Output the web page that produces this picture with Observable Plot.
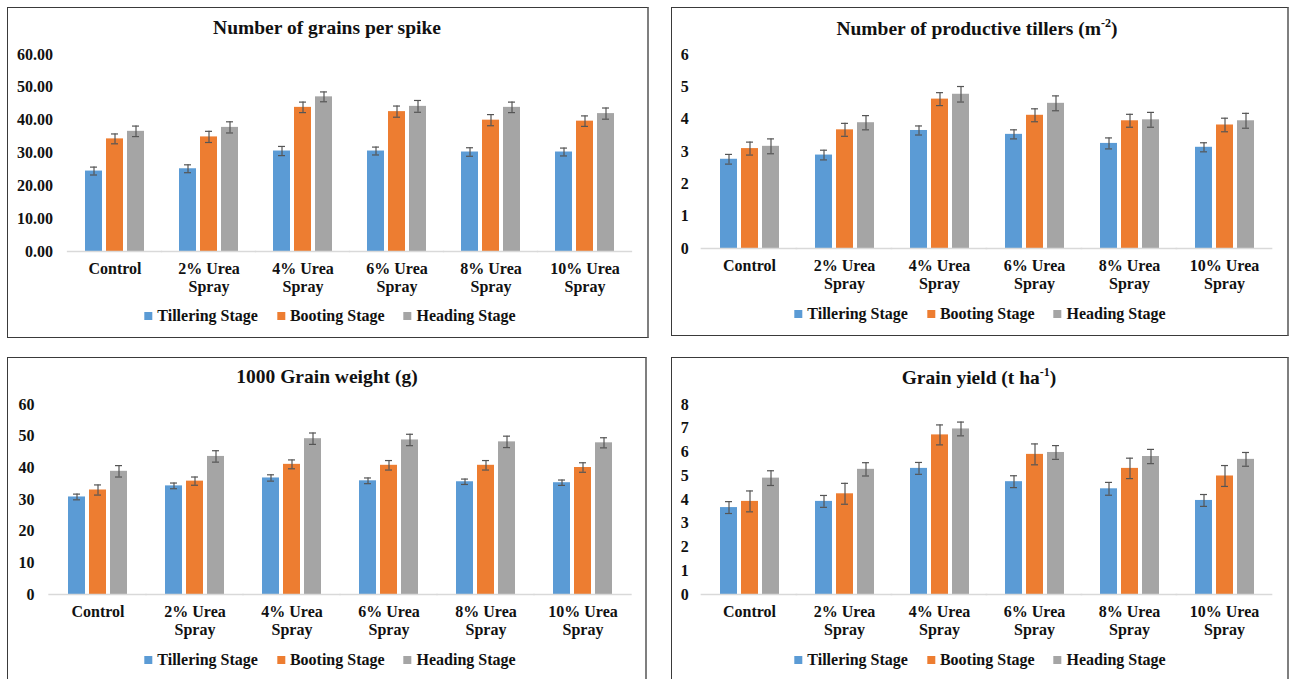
<!DOCTYPE html>
<html><head><meta charset="utf-8">
<script src="https://cdn.jsdelivr.net/npm/d3@7"></script>
<script src="https://cdn.jsdelivr.net/npm/@observablehq/plot@0.6"></script>
<style>
body{margin:0;background:#fff;font-family:"Liberation Serif","Times New Roman",serif;color:#111;}
#root{position:relative;width:1289px;height:679px;overflow:hidden;background:#fff;}
.panel{position:absolute;box-sizing:border-box;border:1px solid #3a3a3a;border-right:2px solid #7f7f7f;}
.title{position:absolute;font-weight:bold;font-size:19.5px;white-space:nowrap;transform:translate(-50%,-50%);}
.title sup{font-size:12px;}
.legend{position:absolute;display:flex;align-items:center;gap:19px;white-space:nowrap;transform:translate(-50%,-50%);font-weight:bold;font-size:16px;}
.legend .item{display:flex;align-items:center;gap:5px;}
.legend .sw{width:8px;height:8px;display:inline-block;}
.chart{position:absolute;}
</style></head><body><div id="root"></div>
<script>
// ---- categories & series ----
const categories = ["Control", "2% Urea\nSpray", "4% Urea\nSpray", "6% Urea\nSpray", "8% Urea\nSpray", "10% Urea\nSpray"];
const stages = ["Tillering Stage", "Booting Stage", "Heading Stage"];
const stageColors = ["#5B9BD5", "#ED7D31", "#A5A5A5"];

// Number of grains per spike
const spikeTillering = [24.5, 25.2, 30.6, 30.6, 30.3, 30.3];
const spikeBooting   = [34.3, 34.9, 43.9, 42.6, 40.0, 39.7];
const spikeHeading   = [36.6, 37.8, 47.1, 44.2, 43.9, 42.0];
const spikeErrT = [1.2, 1.2, 1.4, 1.2, 1.3, 1.2];
const spikeErrB = [1.5, 1.7, 1.6, 1.7, 1.7, 1.6];
const spikeErrH = [1.6, 1.7, 1.5, 1.8, 1.6, 1.7];
const spikeTicks = [0, 10, 20, 30, 40, 50, 60];

// Number of productive tillers (m-2)
const tillersTillering = [2.76, 2.89, 3.65, 3.53, 3.25, 3.13];
const tillersBooting   = [3.09, 3.67, 4.62, 4.12, 3.95, 3.82];
const tillersHeading   = [3.16, 3.89, 4.77, 4.49, 3.98, 3.95];
const tillersErrT = [0.15, 0.15, 0.14, 0.14, 0.17, 0.14];
const tillersErrB = [0.20, 0.20, 0.20, 0.20, 0.20, 0.21];
const tillersErrH = [0.23, 0.22, 0.24, 0.23, 0.23, 0.23];
const tillersTicks = [0, 1, 2, 3, 4, 5, 6];

// 1000 Grain weight (g)
const weightTillering = [30.8, 34.3, 36.8, 35.9, 35.6, 35.3];
const weightBooting   = [33.0, 35.8, 41.1, 40.8, 40.8, 40.1];
const weightHeading   = [38.9, 43.6, 49.2, 48.8, 48.2, 47.9];
const weightErrT = [0.9, 0.9, 1.0, 0.9, 0.85, 0.85];
const weightErrB = [1.6, 1.3, 1.4, 1.5, 1.5, 1.5];
const weightErrH = [1.8, 1.8, 1.8, 1.8, 1.8, 1.6];
const weightTicks = [0, 10, 20, 30, 40, 50, 60];

// Grain yield (t ha-1)
const yieldTillering = [3.66, 3.92, 5.31, 4.75, 4.45, 3.96];
const yieldBooting   = [3.92, 4.24, 6.72, 5.90, 5.31, 4.99];
const yieldHeading   = [4.90, 5.27, 6.97, 5.98, 5.81, 5.69];
const yieldErrT = [0.25, 0.25, 0.25, 0.25, 0.27, 0.25];
const yieldErrB = [0.44, 0.44, 0.42, 0.44, 0.43, 0.44];
const yieldErrH = [0.31, 0.28, 0.29, 0.29, 0.30, 0.29];
const yieldTicks = [0, 1, 2, 3, 4, 5, 6, 7, 8];

function table(series, errs) {
  const rows = [];
  categories.forEach((c, i) => {
    stages.forEach((s, j) => rows.push({cat: c, stage: s, value: series[j][i], err: errs[j][i]}));
  });
  return rows;
}

const panels = [
  {title: "Number of grains per spike", box: [7, 7, 649, 338], plot: [67, 54, 632, 251], titleC: [327, 28], legendC: [330, 316],
   data: table([spikeTillering, spikeBooting, spikeHeading], [spikeErrT, spikeErrB, spikeErrH]), ticks: spikeTicks, fmt: d3.format(".2f"), pad: 15},
  {title: "Number of productive tillers (m<sup>-2</sup>)", box: [671, 7, 1289, 336], plot: [700, 54, 1272, 248], titleC: [977, 28], legendC: [980, 314],
   data: table([tillersTillering, tillersBooting, tillersHeading], [tillersErrT, tillersErrB, tillersErrH]), ticks: tillersTicks, fmt: d3.format("d"), pad: 13},
  {title: "1000 Grain weight (g)", box: [7, 357, 647, 690], plot: [47, 404, 632, 594], titleC: [327, 377], legendC: [330, 660],
   data: table([weightTillering, weightBooting, weightHeading], [weightErrT, weightErrB, weightErrH]), ticks: weightTicks, fmt: d3.format("d"), pad: 15},
  {title: "Grain yield (t ha<sup>-1</sup>)", box: [671, 357, 1289, 690], plot: [700, 404, 1272, 594], titleC: [979, 377], legendC: [980, 660],
   data: table([yieldTillering, yieldBooting, yieldHeading], [yieldErrT, yieldErrB, yieldErrH]), ticks: yieldTicks, fmt: d3.format("d"), pad: 13}
];

const root = document.getElementById("root");
const errColor = "#555555";
const fxPadInner = 0.33, fxPadOuter = 0.165;

for (const p of panels) {
  const [bl, bt, br, bb] = p.box;
  const box = document.createElement("div");
  box.className = "panel";
  Object.assign(box.style, {left: bl + "px", top: bt + "px", width: (br - bl) + "px", height: (bb - bt) + "px"});
  root.appendChild(box);

  const t = document.createElement("div");
  t.className = "title";
  t.innerHTML = p.title;
  Object.assign(t.style, {left: p.titleC[0] + "px", top: p.titleC[1] + "px"});
  root.appendChild(t);

  const [pl, pt, pr, pb] = p.plot;
  const svgLeft = bl + 1, svgTop = pt - 14;
  const mR = 6, mB = 50;
  const width = pr + mR - svgLeft, height = pb + mB - svgTop;
  const ymax = p.ticks[p.ticks.length - 1];
  // the outer facet padding: the y axis sits on the first facet, the baseline spans the gaps
  const step = (pr - pl) / categories.length;
  const outer = step * fxPadOuter;
  const ext = -(outer + 0.6);

  const chart = Plot.plot({
    width, height,
    marginLeft: pl - svgLeft, marginTop: 14, marginRight: mR, marginBottom: mB,
    style: {fontFamily: "'Liberation Serif','Times New Roman',serif", fontSize: "16px", fontWeight: "bold", color: "#111", background: "transparent"},
    fx: {domain: categories, paddingInner: fxPadInner, paddingOuter: fxPadOuter, label: null, axis: null},
    x: {domain: stages, paddingInner: 0.2, paddingOuter: 0.1, axis: null},
    y: {domain: [0, ymax], ticks: p.ticks, tickFormat: p.fmt, tickSize: 0, tickPadding: p.pad + outer, label: null},
    color: {domain: stages, range: stageColors},
    marks: [
      Plot.barY(p.data, {fx: "cat", x: "stage", y: "value", fill: "stage"}),
      Plot.ruleY([0], {stroke: "#d9d9d9", strokeWidth: 1.5, insetLeft: ext, insetRight: ext}),
      Plot.ruleX(p.data, {fx: "cat", x: "stage", y1: d => d.value - d.err, y2: d => d.value + d.err, stroke: errColor, strokeWidth: 1.2}),
      Plot.tickY(p.data, {fx: "cat", x: "stage", y: d => d.value - d.err, stroke: errColor, strokeWidth: 1.2, insetLeft: 5, insetRight: 5}),
      Plot.tickY(p.data, {fx: "cat", x: "stage", y: d => d.value + d.err, stroke: errColor, strokeWidth: 1.2, insetLeft: 5, insetRight: 5}),
      Plot.axisFx({anchor: "bottom", tickSize: 0, tickPadding: 10, lineHeight: 1.13, label: null, fontSize: 16, fontWeight: "bold"})
    ]
  });
  chart.classList.add("chart");
  Object.assign(chart.style, {left: svgLeft + "px", top: svgTop + "px"});
  root.appendChild(chart);

  const lg = document.createElement("div");
  lg.className = "legend";
  Object.assign(lg.style, {left: p.legendC[0] + "px", top: p.legendC[1] + "px"});
  stages.forEach((s, i) => {
    const it = document.createElement("span");
    it.className = "item";
    it.innerHTML = `<span class="sw" style="background:${stageColors[i]}"></span><span>${s}</span>`;
    lg.appendChild(it);
  });
  root.appendChild(lg);
}
</script></body></html>
